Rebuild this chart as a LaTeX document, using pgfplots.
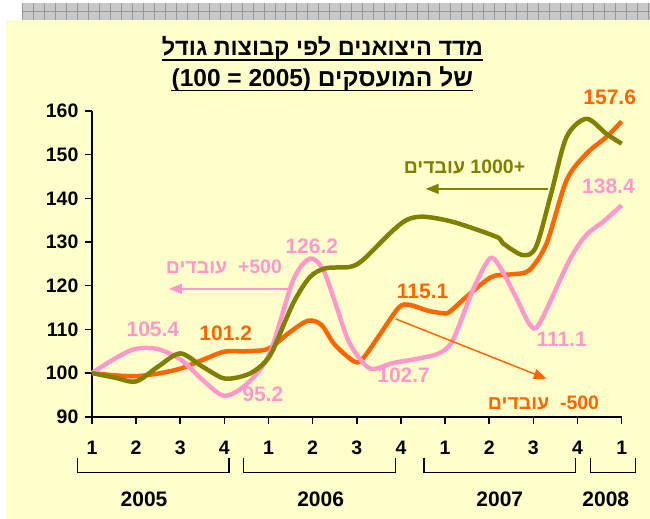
\documentclass[border=0pt]{standalone}
\usepackage{fontspec}
\setmainfont{Liberation Sans}
\newfontfamily\hebfont[Script=Hebrew]{Liberation Sans}
\usepackage{pgfplots}
\pgfplotsset{compat=1.18}
\usetikzlibrary{arrows.meta}
\TeXXeTstate=1
\definecolor{cOr}{RGB}{255,102,0}
\definecolor{cPk}{RGB}{255,153,204}
\definecolor{cOl}{RGB}{128,128,0}
\definecolor{cBg}{RGB}{255,255,204}
\definecolor{cGr}{RGB}{200,200,200}
\definecolor{cGrL}{RGB}{150,150,150}
\newcommand{\heb}[1]{{\hebfont\beginR #1\endR}}

\pgfplotstableread{
x y
0 100
0.5 99.5
1 99.3
1.5 99.9
2 101
2.5 103
3 104.9
3.5 105
4 105.6
4.5 109.5
4.9 112
5.2 111
5.5 106.5
5.95 102.6
6.15 103.5
6.5 108.5
6.95 115
7.2 115.6
7.6 114.3
7.95 113.7
8.1 114
8.5 117.6
9.05 122
9.5 122.6
9.9 123.5
10.3 129.7
10.75 144.1
11.2 150.2
11.65 154
12 157.6
}\orange

\pgfplotstableread{
x y
0 100
0.5 103.2
0.97 105.5
1.49 105.5
2.02 103
2.5 98.5
3 94.8
3.53 97.7
4.03 104.6
4.56 121.3
4.94 126.2
5.24 123.6
5.54 115.2
5.84 106.8
6.29 101.1
6.82 102.3
7.43 103.4
7.88 104.6
8.18 107.6
8.63 119
9.01 126.2
9.24 124.3
9.6 117.5
9.92 111.1
10.14 111.4
10.82 125.9
11.2 131.6
11.6 134.8
12 138.4
}\pink

\pgfplotstableread{
x y
0 100
0.5 99
1 98.1
1.5 101.5
2 104.5
2.5 101.5
2.95 98.9
3.25 98.9
3.6 100
3.9 102.3
4.1 105.3
4.56 116
4.94 122
5.3 124
5.84 124.3
6.14 125.9
6.75 132
7.12 135
7.5 135.8
8.18 134.6
9.16 131.2
9.31 129.7
9.76 127
10.06 128.9
10.4 141
10.75 154
11.2 158.2
11.65 154.8
12 152.5
}\olive

\begin{document}
\begin{tikzpicture}[x=1pt,y=1pt]
% canvas and background
\fill[white] (-92,-102) rectangle (558,417);
\fill[cGr] (-70,397) rectangle (558,414);
\foreach \k in {0,...,57} \draw[cGrL, line width=0.7pt] ({-70+11*\k},397) -- ({-70+11*\k},414);
\draw[cGrL, line width=0.7pt] (-70,405.5) -- (558,405.5);
\fill[cBg] (-86,-102) rectangle (558,397);

% title
\node[anchor=base, inner sep=0pt, font=\fontsize{23.5}{26}\bfseries] (t1) at (230.5,361) {\heb{מדד היצואנים לפי קבוצות גודל}};
\draw[line width=1.6pt] ([yshift=-4pt]t1.base west) -- ([yshift=-4pt]t1.base east);
\node[anchor=base, inner sep=0pt, font=\fontsize{24.5}{27}\bfseries] (t2) at (230.5,330.5) {(100 = 2005)\ \heb{של המועסקים}};
\draw[line width=1.6pt] ([yshift=-4pt]t2.base west) -- ([yshift=-4pt]t2.base east);

\begin{axis}[
  at={(0,0)}, anchor=south west,
  scale only axis, width=530pt, height=306pt,
  xmin=0, xmax=12, ymin=90, ymax=160,
  axis x line*=bottom, axis y line*=left,
  x axis line style={-}, y axis line style={-},
  axis line style={line width=1.8pt, black},
  xtick={0,...,12},
  xticklabels={1,2,3,4,1,2,3,4,1,2,3,4,1},
  ytick={90,100,...,160},
  tick align=outside,
  major tick length=7pt,
  tick style={black, line width=1.5pt},
  /pgf/number format/assume math mode=true,
  ticklabel style={font=\fontsize{19.5}{22}\bfseries},
  xticklabel style={yshift=-14pt},
  yticklabel style={xshift=-3pt},
  clip=false,
  axis background/.style={fill=none},
]
\addplot[cOr, line width=4.5pt, smooth, tension=0.5] table[x=x,y=y] {\orange};
\addplot[cPk, line width=4.5pt, smooth, tension=0.5] table[x=x,y=y] {\pink};
\addplot[cOl, line width=4.5pt, smooth, tension=0.5] table[x=x,y=y] {\olive};

% data labels
\begin{scope}[font=\fontsize{21}{24}\bfseries]
\node[cOr] at (axis cs:11.73,163.2) {157.6};
\node[cPk] at (axis cs:11.70,142.85) {138.4};
\node[cPk] at (axis cs:4.98,129.1) {126.2};
\node[cPk] at (axis cs:1.38,110.13) {105.4};
\node[cOr] at (axis cs:3.03,109.2) {101.2};
\node[cPk] at (axis cs:3.87,95.26) {95.2};
\node[cOr] at (axis cs:7.49,118.6) {115.1};
\node[cPk] at (axis cs:7.06,99.6) {102.7};
\node[cPk] at (axis cs:10.64,107.85) {111.1};
\end{scope}

% group annotations
\node[cOl, font=\fontsize{19.5}{22}\bfseries\hebfont] at (axis cs:8.44,147.2) {\beginR עובדים\endR\ +1000};
\begin{scope}[font=\fontsize{19.5}{22}\bfseries]
\node[cPk] at (axis cs:2.99,124.3) {\heb{עובדים}\ \ +500};
\node[cOr] at (axis cs:10.23,93.2) {\heb{עובדים}\ \ -500};
\end{scope}
\draw[cOl, line width=1.5pt, -{Triangle[length=13pt,width=10pt]}] (axis cs:10.32,142.16) -- (axis cs:7.56,142.16);
\draw[cPk, line width=1.5pt, -{Triangle[length=13pt,width=10pt]}] (axis cs:4.48,119.28) -- (axis cs:1.74,119.28);
\draw[cOr, line width=1.5pt, -{Triangle[length=13pt,width=10pt]}] (axis cs:6.88,112.4) -- (axis cs:10.30,98.7);

% year brackets
\begin{scope}[line width=1.3pt]
\draw (axis cs:-0.324,80.62) -- (axis cs:-0.324,77.19) -- (axis cs:3.108,77.19) -- (axis cs:3.108,80.62);
\draw (axis cs:3.44,80.62) -- (axis cs:3.44,77.19) -- (axis cs:6.88,77.19) -- (axis cs:6.88,80.62);
\draw (axis cs:7.52,80.62) -- (axis cs:7.52,77.19) -- (axis cs:10.96,77.19) -- (axis cs:10.96,80.62);
\draw (axis cs:11.29,80.62) -- (axis cs:11.29,77.19) -- (axis cs:12.32,77.19) -- (axis cs:12.32,80.62);
\end{scope}
\begin{scope}[font=\fontsize{21}{24}\bfseries]
\node at (axis cs:1.18,71.01) {2005};
\node at (axis cs:5.18,71.01) {2006};
\node at (axis cs:9.24,71.01) {2007};
\node at (axis cs:11.64,71.01) {2008};
\end{scope}
\end{axis}
\end{tikzpicture}
\end{document}
